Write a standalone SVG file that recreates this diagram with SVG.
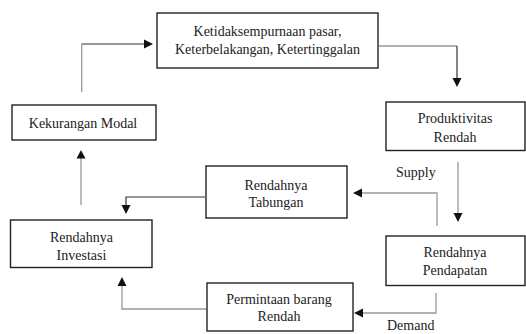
<svg xmlns="http://www.w3.org/2000/svg" width="526" height="334" viewBox="0 0 526 334">
<defs>
<style>
.box{fill:#fff;stroke:#222;stroke-width:1.4}
.t{font-family:"Liberation Serif","Times New Roman",serif;font-size:14px;fill:#222;text-anchor:middle}
.l{font-family:"Liberation Serif","Times New Roman",serif;font-size:14px;fill:#222}
.g{fill:none;stroke:#999;stroke-width:1.3}
.d{fill:none;stroke:#333;stroke-width:1.2}
.h{fill:#111}
</style>
</defs>
<rect width="526" height="334" fill="#fff"/>
<g id="connectors">
<path class="g" d="M81.7 92V44"/><path class="d" d="M81.7 44H145"/><path class="h" d="M153 44L144 39.5V48.5Z"/>
<path class="g" d="M379 46H457"/><path class="d" d="M457 46V79"/><path class="h" d="M457 87L452.5 78H461.5Z"/>
<path class="g" d="M458 162V214"/><path class="h" d="M458 222L453.5 213H462.5Z"/>
<path class="g" d="M437 226V193H362"/><path class="h" d="M353 193L362 188.5V197.5Z"/>
<path class="d" d="M205 197H126V206"/><path class="h" d="M126 214L121.5 205H130.5Z"/>
<path class="g" d="M81 205V157"/><path class="h" d="M81 150L76.5 158.5H85.5Z"/>
<path class="g" d="M436 293V313H362"/><path class="h" d="M354 313L363 308.5V317.5Z"/>
<path class="g" d="M206 309H122V285"/><path class="h" d="M122 277L117.5 286H126.5Z"/>
</g>
<g id="n-top"><rect class="box" x="157" y="13" width="221" height="55"/><text class="t" x="267.5" y="36">Ketidaksempurnaan pasar,</text><text class="t" x="267.5" y="54">Keterbelakangan, Ketertinggalan</text></g>
<g id="n-produktivitas"><rect class="box" x="386" y="102" width="139" height="48.5"/><text class="t" x="455" y="123">Produktivitas</text><text class="t" x="455" y="142">Rendah</text></g>
<g id="n-kekurangan"><rect class="box" x="12" y="105" width="144" height="35"/><text class="t" x="83" y="128">Kekurangan Modal</text></g>
<g id="n-tabungan"><rect class="box" x="206" y="166" width="141" height="52"/><text class="t" x="276" y="190">Rendahnya</text><text class="t" x="276" y="207">Tabungan</text></g>
<g id="n-investasi"><rect class="box" x="10.5" y="220" width="141.5" height="47.5"/><text class="t" x="81.5" y="242">Rendahnya</text><text class="t" x="81.5" y="260">Investasi</text></g>
<g id="n-pendapatan"><rect class="box" x="386" y="236" width="139" height="49.5"/><text class="t" x="455" y="257">Rendahnya</text><text class="t" x="455" y="275">Pendapatan</text></g>
<g id="n-permintaan"><rect class="box" x="207" y="283" width="146" height="48"/><text class="t" x="279" y="304">Permintaan barang</text><text class="t" x="279" y="321">Rendah</text></g>
<text class="l" x="396" y="177">Supply</text>
<text class="l" x="387" y="330">Demand</text>
</svg>
